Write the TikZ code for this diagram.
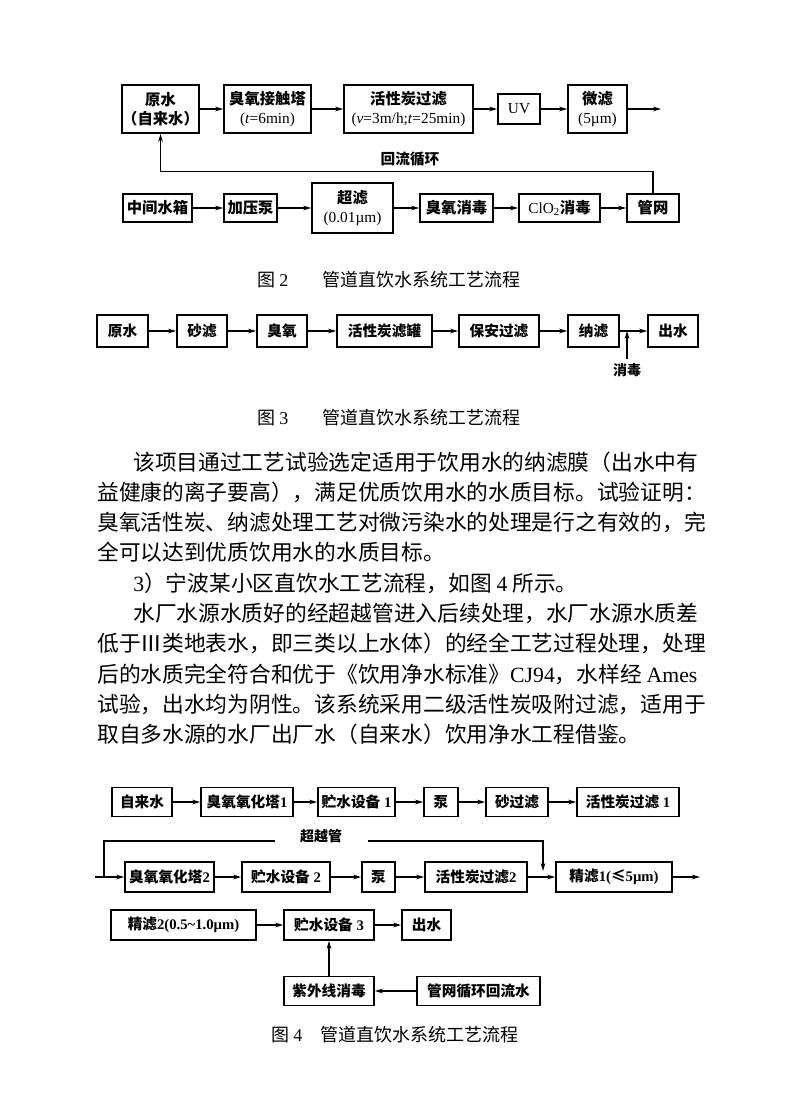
\documentclass[tikz,border=0pt]{standalone}
\usepackage{fontspec}
\setmainfont{Noto Sans CJK SC}
\newfontfamily\lat{Liberation Serif}
\usetikzlibrary{positioning,arrows.meta}

\begin{document}
\begin{tikzpicture}[x=0.75pt, y=-0.75pt,
    blk/.style={draw, line width=1.3pt, inner sep=0pt, align=center, font=\fontsize{11.5}{14}\selectfont\bfseries},
    sz/.style 2 args={minimum width=#1*0.75pt, minimum height=#2*0.75pt},
    small/.style={font=\fontsize{11}{13}\selectfont\bfseries},
    ln/.style={line width=0.9pt},
    arr/.style={ln, -{Stealth[length=6pt,width=3.5pt]}},
    body/.style={anchor=west, inner sep=0pt, font=\fontsize{16.3}{20}\selectfont},
    figcap/.style={anchor=west, inner sep=0pt, font=\fontsize{13.5}{16}\selectfont}]
\path[fill=white] (0,0) rectangle (800,1120);
\useasboundingbox (0,0) rectangle (800,1120);

\node[blk, sz={75}{48}] (src2) at (160.5,109) {原水\\（自来水）};
\node[blk, sz={87}{48}] (ozc) at (267.5,109) {臭氧接触塔\\{\lat\mdseries(\textit{t}=6min)}};
\node[blk, sz={129}{48}] (gac2) at (408.5,109) {活性炭过滤\\{\lat\mdseries(\textit{v}=3m/h;\textit{t}=25min)}};
\node[blk, sz={42}{30}] (uv) at (519,109) {\lat\mdseries UV};
\node[blk, sz={59}{48}] (mf) at (597.5,109) {微滤\\{\lat\mdseries(5\textmu m)}};
\coordinate (out2) at (661,109);
\draw[arr] (src2) -- (ozc);
\draw[arr] (ozc) -- (gac2);
\draw[arr] (gac2) -- (uv);
\draw[arr] (uv) -- (mf);
\draw[arr] (mf) -- (out2);

\node[blk, sz={69}{28}] (tank) at (157.5,208) {中间水箱};
\node[blk, sz={53}{28}] (pump) at (250.5,208) {加压泵};
\node[blk, sz={81}{50}] (uf) at (352.5,208) {超滤\\{\lat\mdseries(0.01\textmu m)}};
\node[blk, sz={73}{28}] (ozd) at (456.5,208) {臭氧消毒};
\node[blk, sz={81}{28}] (clo) at (559.5,208) {{\lat\mdseries ClO\textsubscript{2}}消毒};
\node[blk, sz={52}{28}] (net) at (653,208) {管网};
\draw[arr] (tank) -- (pump);
\draw[arr] (pump) -- (uf);
\draw[arr] (uf) -- (ozd);
\draw[arr] (ozd) -- (clo);
\draw[arr] (clo) -- (net);
\draw[arr] (net.north) -- ++(0,-22) -| (src2.south);
\node[font=\fontsize{11}{13}\selectfont\bfseries] (loopl) at (410,159) {回流循环};

\node[figcap] (cap2) at (257,280) {图 {\lat 2}\hspace{26pt}管道直饮水系统工艺流程};

\node[blk, small, sz={51}{32}] (raw3) at (122.5,331) {原水};
\node[blk, small, sz={50}{32}] (sand3) at (202,331) {砂滤};
\node[blk, small, sz={50}{32}] (oz3) at (282,331) {臭氧};
\node[blk, small, sz={95}{32}] (gac3) at (384.5,331) {活性炭滤罐};
\node[blk, small, sz={80}{32}] (sec3) at (499,331) {保安过滤};
\node[blk, small, sz={51}{32}] (nf3) at (593.5,331) {纳滤};
\node[blk, small, sz={50}{32}] (prod3) at (673,331) {出水};
\node[font=\fontsize{10.5}{12}\selectfont\bfseries] (dis3) at (627,370) {消毒};
\draw[arr] (raw3) -- (sand3);
\draw[arr] (sand3) -- (oz3);
\draw[arr] (oz3) -- (gac3);
\draw[arr] (gac3) -- (sec3);
\draw[arr] (sec3) -- (nf3);
\draw[arr] (nf3) -- (prod3);
\draw[arr] (dis3.north) -- (dis3.north |- nf3.east);

\node[figcap] (cap3) at (257,418) {图 {\lat 3}\hspace{26pt}管道直饮水系统工艺流程};

\node[body] (t1) at (133,462) {该项目通过工艺试验选定适用于饮用水的纳滤膜（出水中有};
\node[body] (t2) at (97,492) {益健康的离子要高），满足优质饮用水的水质目标。试验证明：};
\node[body] (t3) at (97,522) {臭氧活性炭、纳滤处理工艺对微污染水的处理是行之有效的，完};
\node[body] (t4) at (97,552) {全可以达到优质饮用水的水质目标。};
\node[body] (t5) at (133,583) {{\lat 3}）宁波某小区直饮水工艺流程，如图 {\lat 4} 所示。};
\node[body] (t6) at (133,613) {水厂水源水质好的经超越管进入后续处理，水厂水源水质差};
\node[body] (t7) at (97,643) {低于Ⅲ类地表水，即三类以上水体）的经全工艺过程处理，处理};
\node[body] (t8) at (97,674) {后的水质完全符合和优于《饮用净水标准》{\lat CJ94}，水样经 {\lat Ames}};
\node[body] (t9) at (97,704) {试验，出水均为阴性。该系统采用二级活性炭吸附过滤，适用于};
\node[body] (t10) at (97,734) {取自多水源的水厂出厂水（自来水）饮用净水工程借鉴。};

\node[blk, small, sz={60}{29}] (tap) at (142,802) {自来水};
\node[blk, small, sz={92}{29}] (ozt1) at (247,802) {臭氧氧化塔{\lat 1}};
\node[blk, small, sz={77}{29}] (st1) at (356.5,802) {贮水设备{\lat\ 1}};
\node[blk, small, sz={34}{29}] (pmp1) at (441,802) {泵};
\node[blk, small, sz={62}{29}] (sf) at (517,802) {砂过滤};
\node[blk, small, sz={102}{29}] (gac1) at (628,802) {活性炭过滤{\lat\ 1}};
\draw[arr] (tap) -- (ozt1);
\draw[arr] (ozt1) -- (st1);
\draw[arr] (st1) -- (pmp1);
\draw[arr] (pmp1) -- (sf);
\draw[arr] (sf) -- (gac1);

\node[font=\fontsize{10.5}{12}\selectfont\bfseries] (bypl) at (321,836) {超越管};
\coordinate (byp) at (104,877);
\coordinate (bypa) at (275,841);
\coordinate (bypb) at (368,841);
\coordinate (bypend) at (543,871);
\coordinate (in4) at (95,877);

\node[blk, small, sz={89}{30}] (ozt2) at (169.5,877) {臭氧氧化塔{\lat 2}};
\node[blk, small, sz={88}{30}] (st2) at (286,877) {贮水设备{\lat\ 2}};
\node[blk, small, sz={33}{30}] (pmp2) at (378.5,877) {泵};
\node[blk, small, sz={102}{30}] (gac4) at (476,877) {活性炭过滤{\lat 2}};
\node[blk, small, sz={116}{30}] (pf1) at (614,877) {精滤{\lat 1(}≤{\lat 5\textmu m)}};
\coordinate (out4) at (700,877);
\draw[arr] (in4) -- (ozt2);
\draw[ln] (byp) |- (bypa);
\draw[arr] (bypb) -| (bypend);
\draw[arr] (ozt2) -- (st2);
\draw[arr] (st2) -- (pmp2);
\draw[arr] (pmp2) -- (gac4);
\draw[arr] (gac4) -- (pf1);
\draw[arr] (pf1) -- (out4);

\node[blk, small, sz={145}{30}] (pf2) at (183.5,925) {精滤{\lat 2(0.5\textasciitilde 1.0\textmu m)}};
\node[blk, small, sz={90}{30}] (st3) at (329,925) {贮水设备{\lat\ 3}};
\node[blk, small, sz={49}{30}] (prod4) at (426.5,925) {出水};
\node[blk, small, sz={90}{29}] (uvd) at (329,991) {紫外线消毒};
\node[blk, small, sz={123}{29}] (ret) at (478.5,991) {管网循环回流水};
\draw[arr] (pf2) -- (st3);
\draw[arr] (st3) -- (prod4);
\draw[arr] (ret) -- (uvd);
\draw[arr] (uvd) -- (st3);

\node[figcap] (cap4) at (271,1035) {图 {\lat 4}\hspace{14pt}管道直饮水系统工艺流程};
\end{tikzpicture}
\end{document}
